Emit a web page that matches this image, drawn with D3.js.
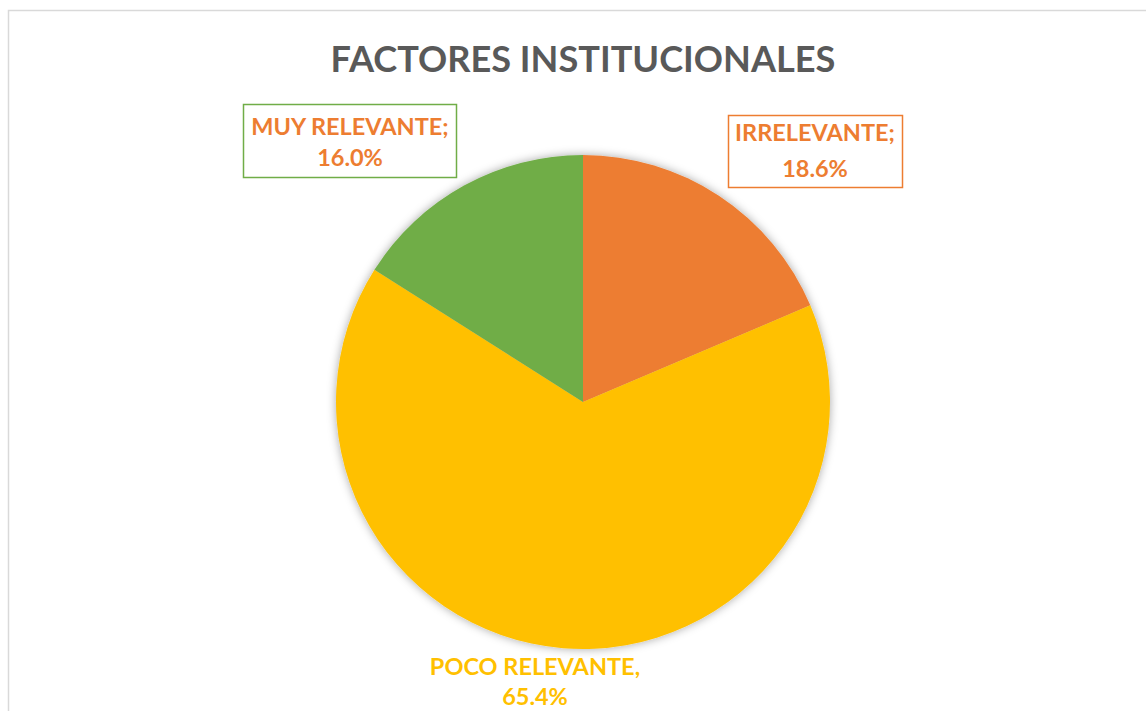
<!DOCTYPE html>
<html>
<head>
<meta charset="utf-8">
<script src="https://cdn.jsdelivr.net/npm/d3@7"></script>
<style>
  html, body { margin: 0; padding: 0; background: #fff; }
  svg { display: block; }
  text { font-family: "Lato", "Open Sans", sans-serif; font-weight: bold; }
</style>
</head>
<body>
<div class="chart"></div>
<script>
var categories = ["IRRELEVANTE", "POCO RELEVANTE", "MUY RELEVANTE"];
var values = [18.6, 65.4, 16.0];
var colors = ["#ED7D31", "#FFC000", "#70AD47"];
var separators = [";", ",", ";"];

var width = 1146, height = 711;

var svg = d3.select(".chart").append("svg")
    .attr("width", width)
    .attr("height", height);

// chart area border
svg.append("rect")
    .attr("x", 8.5).attr("y", 10.5)
    .attr("width", width + 10).attr("height", height + 10)
    .attr("fill", "#fff")
    .attr("stroke", "#d9d9d9")
    .attr("stroke-width", 1.5);

var defs = svg.append("defs");
var filter = defs.append("filter")
    .attr("id", "shadow")
    .attr("x", "-10%").attr("y", "-10%")
    .attr("width", "120%").attr("height", "120%");
filter.append("feDropShadow")
    .attr("dx", 0).attr("dy", 0)
    .attr("stdDeviation", 5)
    .attr("flood-color", "#000")
    .attr("flood-opacity", 0.35);

// title
var title = svg.append("text")
    .attr("x", 583).attr("y", 72)
    .attr("text-anchor", "middle")
    .attr("fill", "#595959")
    .style("font-size", "40px")
    .text("FACTORES INSTITUCIONALES");
var tw = title.node().getComputedTextLength();
title.style("font-size", (40 * 505 / tw) + "px");

var cx = 583, cy = 402, radius = 247;

var pie = d3.pie().sort(null).value(function (d) { return d; });
var arc = d3.arc().innerRadius(0).outerRadius(radius);

var g = svg.append("g")
    .attr("transform", "translate(" + cx + "," + cy + ")");

var slices = g.append("g").attr("filter", "url(#shadow)");
slices.selectAll("path")
    .data(pie(values))
    .enter()
    .append("path")
    .attr("d", arc)
    .attr("fill", function (d, i) { return colors[i]; });

// data labels (boxes and text positions, in page coords)
var labelPos = [
    {x: 815, y1: 141, y2: 177, box: [728, 115, 174, 72], text: "#ED7D31", stroke: "#ED7D31"},
    {x: 535, y1: 675, y2: 705, box: null, text: "#FFC000", stroke: null},
    {x: 350, y1: 135, y2: 166, box: [243, 104, 213, 73], text: "#ED7D31", stroke: "#70AD47"}
];

labelPos.forEach(function (p, i) {
    if (p.box) {
        svg.append("rect")
            .attr("x", p.box[0] + 0.5).attr("y", p.box[1] + 0.5)
            .attr("width", p.box[2]).attr("height", p.box[3])
            .attr("fill", "#fff")
            .attr("stroke", p.stroke)
            .attr("stroke-width", 1.5);
    }
    var t = svg.append("text")
        .attr("text-anchor", "middle")
        .attr("fill", p.text)
        .style("font-size", "23.5px");
    t.append("tspan").attr("x", p.x).attr("y", p.y1)
        .text(categories[i] + separators[i]);
    t.append("tspan").attr("x", p.x).attr("y", p.y2)
        .text(d3.format(".1f")(values[i]) + "%");
});
</script>
</body>
</html>
